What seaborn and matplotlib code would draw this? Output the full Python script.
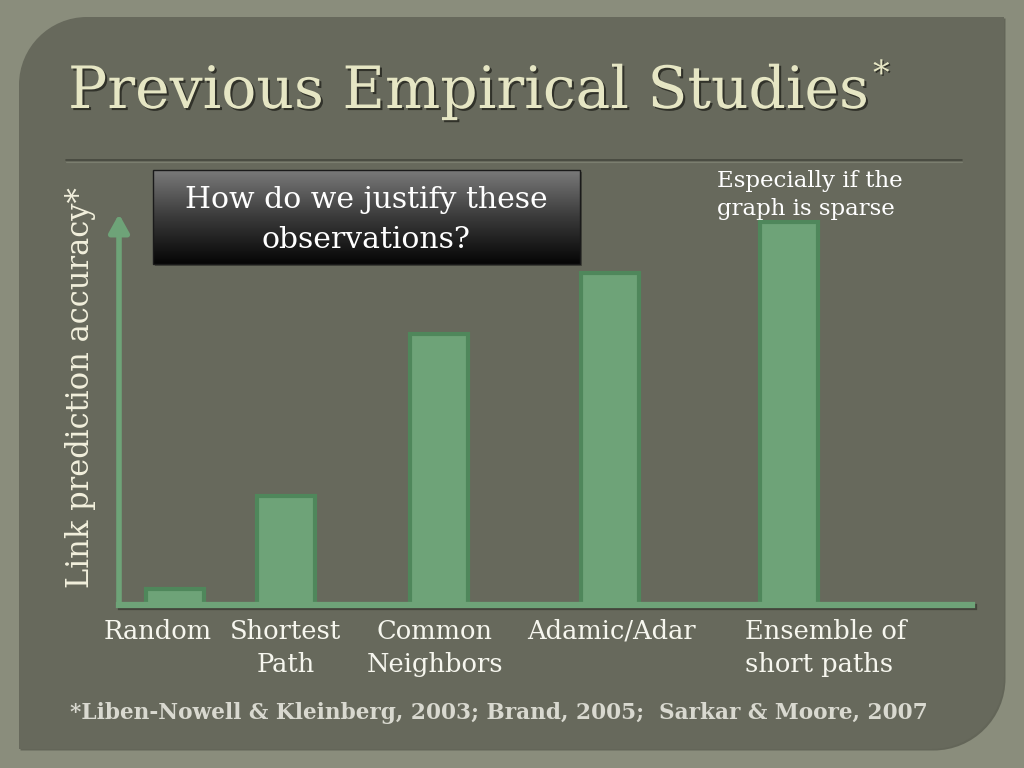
import numpy as np
import pandas as pd
import matplotlib
matplotlib.use("Agg")
import matplotlib.pyplot as plt
import matplotlib.patheffects as pe
from matplotlib.path import Path
from matplotlib.patches import PathPatch, Rectangle
import seaborn as sns

# ---------------- data ----------------
categories = ["Random", "Shortest\nPath", "Common\nNeighbors", "Adamic/Adar", "Ensemble of\nshort paths"]
accuracy = [4.1, 27.9, 69.3, 84.9, 98.0]   # relative link prediction accuracy (axis top = 100)
title_text = "Previous Empirical Studies"
ylabel_text = "Link prediction accuracy*"
callout_text = "How do we justify these\nobservations?"
note_text = "Especially if the\ngraph is sparse"
footer_text = "*Liben-Nowell & Kleinberg, 2003; Brand, 2005;  Sarkar & Moore, 2007"

# ---------------- layout (pixel coordinates) ----------------
W, H = 1024, 768
bar_x = [175, 286, 439, 610, 789]          # bar centres
label_x = [158, 286, 435, 611, 745]        # label anchors
label_ha = ["center", "center", "center", "center", "left"]
ax_left, ax_right, ax_bottom, ax_top = 119, 972, 605, 214

OUTER = "#8a8d7c"
PANEL = "#67695c"
BAR_FILL = "#6ea378"
BAR_EDGE = "#4f875b"
CREAM = "#e6e6c4"
WHITE = "#f6f6ee"

sns.set_theme(style="white")
plt.rcParams["font.family"] = ["DejaVu Serif", "DejaVu Sans"]

fig = plt.figure(figsize=(W / 100, H / 100), dpi=100, facecolor=OUTER)

# background axes in pixel coords (y downward)
bg = fig.add_axes([0, 0, 1, 1], zorder=0)
bg.set_xlim(0, W)
bg.set_ylim(H, 0)
bg.axis("off")
bg.set_facecolor(OUTER)


def panel_path(x0, y0, x1, y1, r1, r2):
    k = 0.5523
    verts = [
        (x0 + r1, y0), (x1, y0), (x1, y1 - r2),
        (x1, y1 - r2 + k * r2), (x1 - r2 + k * r2, y1), (x1 - r2, y1),
        (x0, y1), (x0, y0 + r1),
        (x0, y0 + r1 - k * r1), (x0 + r1 - k * r1, y0), (x0 + r1, y0),
        (x0 + r1, y0),
    ]
    codes = [Path.MOVETO, Path.LINETO, Path.LINETO,
             Path.CURVE4, Path.CURVE4, Path.CURVE4,
             Path.LINETO, Path.LINETO,
             Path.CURVE4, Path.CURVE4, Path.CURVE4,
             Path.CLOSEPOLY]
    return Path(verts, codes)


# shadow + panel
bg.add_patch(PathPatch(panel_path(20.5, 18.5, 1005.5, 750.5, 68, 72), facecolor="#5a5c50", edgecolor="none", alpha=0.8))
bg.add_patch(PathPatch(panel_path(19, 17, 1004, 749, 68, 72), facecolor=PANEL, edgecolor="none"))

# title
bg.text(68, 108, title_text, fontsize=42, color=CREAM, ha="left", va="baseline",
        path_effects=[pe.withSimplePatchShadow(offset=(1.5, -1.5), shadow_rgbFace="#2b2c25", alpha=0.9)])
bg.text(873, 84, "*", fontsize=24, color=CREAM, ha="left", va="baseline",
        path_effects=[pe.withSimplePatchShadow(offset=(1, -1), shadow_rgbFace="#2b2c25", alpha=0.9)])

# separator line
bg.plot([66, 962], [160, 160], color="#45473d", lw=1.2)
bg.plot([66, 962], [161.5, 161.5], color="#7b7e6f", lw=0.8)

# callout box with gradient
grad = np.linspace(0, 1, 256).reshape(-1, 1)
bg.add_patch(Rectangle((155, 172), 427, 94, facecolor="#2f3029", edgecolor="none", alpha=0.6))
bg.imshow(grad, extent=[153, 580, 264, 170], cmap=matplotlib.colors.LinearSegmentedColormap.from_list(
    "g", ["#7a7a7a", "#3a3a3a", "#050505"]), aspect="auto", zorder=2, origin="upper")
bg.add_patch(Rectangle((153, 170), 427, 94, facecolor="none", edgecolor="#1a1a1a", lw=1, zorder=3))
bg.text(366, 220, callout_text, fontsize=21.5, color="white", ha="center", va="center",
        linespacing=1.5, zorder=4)

# note
bg.text(717, 195, note_text, fontsize=16.5, color="white", ha="left", va="center", linespacing=1.4)

# y label
bg.text(81, 388, ylabel_text, fontsize=22, color="#f2f0dc", rotation=90, ha="center", va="center")

# footer
bg.text(70, 713, footer_text, fontsize=15.6, fontweight="bold", color="#d9d9d0", ha="left", va="center")

# ---------------- chart axes ----------------
ax = fig.add_axes([ax_left / W, 1 - ax_bottom / H, (ax_right - ax_left) / W, (ax_bottom - ax_top) / H],
                  zorder=1)
ax.patch.set_alpha(0)

df = pd.DataFrame({"pos": bar_x, "accuracy": accuracy, "method": categories})
sns.barplot(data=df, x="pos", y="accuracy", native_scale=True, width=58 / 111,
            color=BAR_FILL, saturation=1, edgecolor=BAR_EDGE, linewidth=3, ax=ax, zorder=2)
for p in ax.patches:
    p.set_facecolor(BAR_FILL)

ax.set_xlim(ax_left, ax_right)
ax.set_ylim(0, 100)
for s in ["top", "right", "left"]:
    ax.spines[s].set_visible(False)
ax.spines["bottom"].set_color(BAR_FILL)
ax.spines["bottom"].set_linewidth(4.5)
ax.spines["bottom"].set_zorder(3)
ax.spines["bottom"].set_path_effects([pe.SimpleLineShadow(offset=(1.5, -1.5), shadow_color="#3a3b33", alpha=0.8), pe.Normal()])

# y axis arrow
ax.annotate("", xy=(0, 1.0), xycoords="axes fraction", xytext=(0, 0), textcoords="axes fraction",
            arrowprops=dict(arrowstyle="-|>,head_length=0.9,head_width=0.5", color=BAR_FILL, lw=4,
                            shrinkA=0, shrinkB=0),
            annotation_clip=False, zorder=3)

ax.set_yticks([])
ax.set_xticks(label_x)
ax.set_xticklabels(categories, fontsize=18.5, color=WHITE, linespacing=1.4)
for lbl, ha in zip(ax.get_xticklabels(), label_ha):
    lbl.set_ha(ha)
    lbl.set_multialignment(ha)
ax.tick_params(axis="x", length=0, pad=10)
ax.set_xlabel("")
ax.set_ylabel("")

fig.savefig("out.png", dpi=100, facecolor=OUTER)
